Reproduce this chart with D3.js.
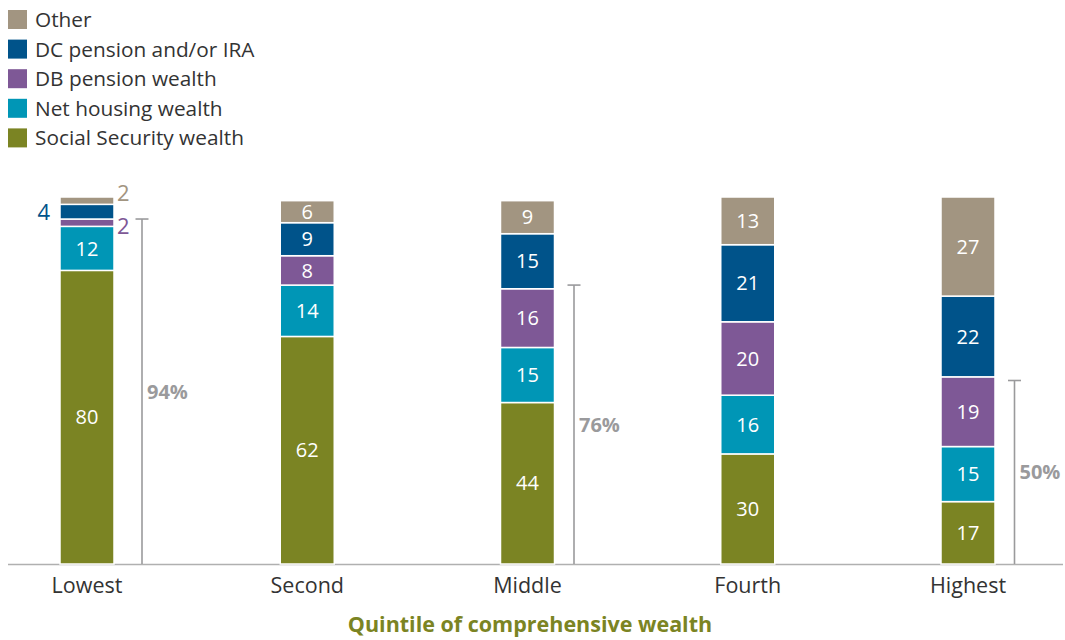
<!DOCTYPE html>
<html>
<head>
<meta charset="utf-8">
<script src="https://cdn.jsdelivr.net/npm/d3@7"></script>
<style>
  html, body { margin: 0; padding: 0; background: #fff; }
  svg { display: block; font-family: "Open Sans", "Noto Sans", sans-serif; }
</style>
</head>
<body>
<svg id="chart" width="1065" height="640"></svg>
<script>
// Quintiles of comprehensive wealth
const categories = ["Lowest", "Second", "Middle", "Fourth", "Highest"];

// Share of wealth by component, percent
const socialSecurity = [80, 62, 44, 30, 17];
const netHousing     = [12, 14, 15, 16, 15];
const dbPension      = [2, 8, 16, 20, 19];
const dcPensionIRA   = [4, 9, 15, 21, 22];
const other          = [2, 6, 9, 13, 27];

// Combined share of Social Security, housing and DB pension
const bracketLabels = [94, null, 76, null, 50];

const seriesNames = ["Social Security wealth", "Net housing wealth", "DB pension wealth", "DC pension and/or IRA", "Other"];
const seriesValues = [socialSecurity, netHousing, dbPension, dcPensionIRA, other];
const seriesColors = ["#7b8423", "#0096b6", "#7e5896", "#00538a", "#a29581"];

const svg = d3.select("#chart");

const baseline = 564;
const x = d3.scalePoint().domain(categories).range([87, 968]);
const y = d3.scaleLinear().domain([0, 100]).range([baseline, 197]);
const barW = 54;

// stack rows
const rows = categories.map((c, i) => {
  const r = { cat: c };
  seriesNames.forEach((s, k) => r[s] = seriesValues[k][i]);
  return r;
});
const stack = d3.stack().keys(seriesNames)(rows);

// baseline
svg.append("line")
  .attr("x1", 8).attr("x2", 1063)
  .attr("y1", baseline + 0.5).attr("y2", baseline + 0.5)
  .attr("stroke", "#b0b0b0").attr("stroke-width", 1.6);

const layers = svg.append("g").selectAll("g")
  .data(stack).join("g")
  .attr("fill", (d, i) => seriesColors[i]);

layers.selectAll("rect")
  .data(d => d).join("rect")
  .attr("x", d => x(d.data.cat) - barW / 2)
  .attr("width", barW)
  .attr("y", d => y(d[1]))
  .attr("height", d => y(d[0]) - y(d[1]))
  .attr("stroke", "#fff").attr("stroke-width", 1.5);

// value labels inside segments; thin segments are labelled beside the bar
stack.forEach((layer, k) => {
  layer.forEach((d, i) => {
    const v = d[1] - d[0];
    const cx = x(d.data.cat);
    const cy = (y(d[0]) + y(d[1])) / 2;
    if (v >= 5) {
      svg.append("text")
        .attr("x", cx).attr("y", cy)
        .attr("dy", "0.36em")
        .attr("text-anchor", "middle")
        .attr("fill", "#fff")
        .attr("font-size", 20)
        .text(v);
    } else {
      const left = k === 3;
      // spread the two right-hand labels apart vertically
      const shift = k === 4 ? -8 : (k === 2 ? 3 : 0);
      svg.append("text")
        .attr("x", left ? cx - barW / 2 - 10 : cx + barW / 2 + 3)
        .attr("y", cy + shift)
        .attr("dy", "0.36em")
        .attr("text-anchor", left ? "end" : "start")
        .attr("fill", seriesColors[k])
        .attr("font-size", 22)
        .text(v);
    }
  });
});

// brackets with combined shares
bracketLabels.forEach((b, i) => {
  if (b == null) return;
  const hasSide = seriesValues.some(s => s[i] < 5);
  const bx = x(categories[i]) + (hasSide ? 55 : 46.5);
  const g = svg.append("g").attr("stroke", "#9a9a9c").attr("stroke-width", 1.6);
  g.append("line").attr("x1", bx).attr("x2", bx).attr("y1", y(b)).attr("y2", baseline);
  g.append("line").attr("x1", bx - 6.5).attr("x2", bx + 6.5).attr("y1", y(b)).attr("y2", y(b));
  svg.append("text")
    .attr("x", bx + 5).attr("y", (y(b) + baseline) / 2)
    .attr("dy", "0.36em")
    .attr("fill", "#9a9a9c")
    .attr("font-size", 20).attr("font-weight", 700)
    .text(b + "%");
});

// category axis
svg.append("g").selectAll("text")
  .data(categories).join("text")
  .attr("x", d => x(d)).attr("y", 593)
  .attr("text-anchor", "middle")
  .attr("fill", "#333")
  .attr("font-size", 21.5)
  .text(d => d);

svg.append("text")
  .attr("x", 530).attr("y", 632)
  .attr("text-anchor", "middle")
  .attr("fill", "#7b8423")
  .attr("font-size", 21.5).attr("font-weight", 700)
  .text("Quintile of comprehensive wealth");

// legend, top-down from Other to Social Security
const legendOrder = d3.range(seriesNames.length).reverse();
const legend = svg.append("g").selectAll("g")
  .data(legendOrder).join("g")
  .attr("transform", (d, j) => `translate(8, ${10 + j * 29.6})`);
legend.append("rect").attr("width", 19).attr("height", 19).attr("fill", d => seriesColors[d]);
legend.append("text")
  .attr("x", 27).attr("y", 9.5).attr("dy", "0.36em")
  .attr("fill", "#333").attr("font-size", 20.8)
  .text(d => seriesNames[d]);
</script>
</body>
</html>
